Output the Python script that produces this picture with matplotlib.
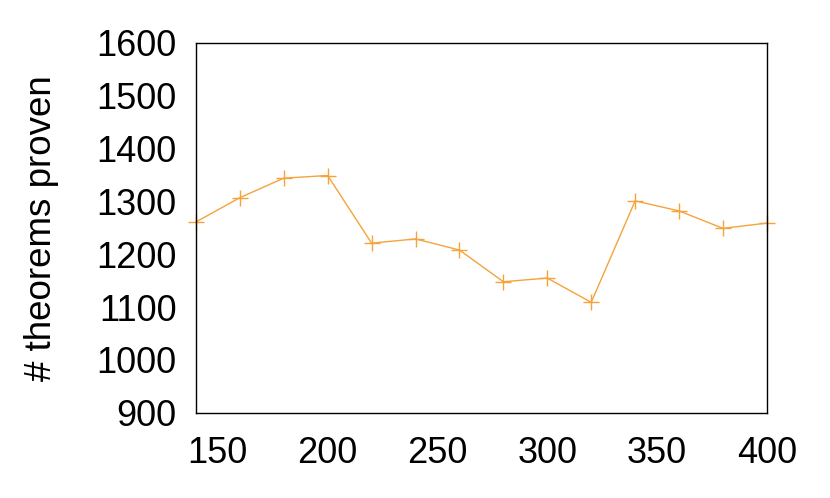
import matplotlib
matplotlib.use("Agg")
import matplotlib.pyplot as plt

x_vals = [140, 160, 180, 200, 220, 240, 260, 280, 300, 320, 340, 360, 380, 400]
theorems = [1261, 1307, 1344, 1349, 1221, 1229, 1208, 1148, 1155, 1109, 1301, 1282, 1249, 1259]
x_ticks = [150, 200, 250, 300, 350, 400]
y_ticks = [900, 1000, 1100, 1200, 1300, 1400, 1500, 1600]

plt.rcParams['font.family'] = ['Liberation Sans', 'DejaVu Sans']

fig = plt.figure(figsize=(8.3, 4.98), dpi=100)
ax = fig.add_axes([0.236, 0.171, 0.688, 0.743])
ax.plot(x_vals, theorems, color='#f5a33a', linewidth=1, marker='+',
        markersize=11, markeredgewidth=1, clip_on=False)
ax.set_xlim(140, 400)
ax.set_ylim(900, 1600)
ax.set_xticks(x_ticks)
ax.set_yticks(y_ticks)
ax.tick_params(axis='x', labelsize=26, length=0, pad=17)
ax.tick_params(axis='y', labelsize=26, length=0, pad=14)
ax.set_ylabel("# theorems proven", fontsize=26.5, labelpad=27)
for sp in ax.spines.values():
    sp.set_linewidth(1)

fig.savefig("out.png", dpi=100)
